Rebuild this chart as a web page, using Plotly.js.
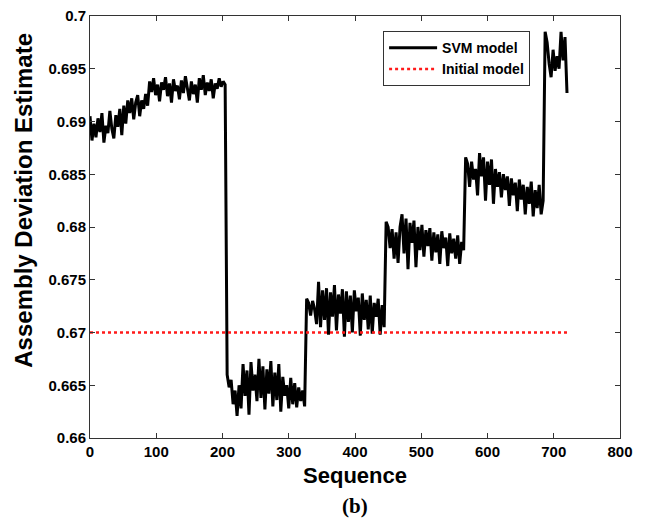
<!DOCTYPE html>
<html>
<head>
<meta charset="utf-8">
<script src="https://cdn.plot.ly/plotly-3.0.1.min.js"></script>
<style>html,body{margin:0;padding:0;background:#fff;}#chart{width:646px;height:524px;}</style>
</head>
<body>
<div id="chart"></div>
<script>
// Sequence sampled every 3 steps from 0 to 720
const seqStart = 0, seqStep = 3;

// SVM model estimate (segments between level jumps)
const svmSeg1 = [0.6905,0.6882,0.6898,0.6885,0.6903,0.6890,0.6908,0.6880,0.6896,0.6889,
  0.6910,0.6893,0.6884,0.6906,0.6895,0.6912,0.6887,0.6915,0.6898,0.6920,
  0.6908,0.6922,0.6902,0.6918,0.6925,0.6905,0.6920,0.6912,0.6926,0.6915,
  0.6938,0.6928,0.6941,0.6925,0.6935,0.6919,0.6937,0.6930,0.6942,0.6924,
  0.6936,0.6918,0.6940,0.6929,0.6934,0.6921,0.6939,0.6927,0.6943,0.6931,
  0.6920,0.6938,0.6926,0.6935,0.6918,0.6941,0.6930,0.6944,0.6925,0.6937,
  0.6929,0.6940,0.6922,0.6936,0.6931,0.6941,0.6933,0.6938,0.6935];
const svmSeg2 = [0.6660,0.6648,0.6655,0.6632,0.6645,0.6621,0.6650,0.6628,0.6670,0.6640,
  0.6664,0.6622,0.6672,0.6645,0.6660,0.6635,0.6675,0.6638,0.6668,0.6627,
  0.6665,0.6642,0.6673,0.6630,0.6662,0.6636,0.6670,0.6625,0.6658,0.6640,
  0.6650,0.6628,0.6657,0.6632,0.6652,0.6629,0.6648,0.6635,0.6645,0.6630];
const svmSeg3 = [0.6732,0.6728,0.6716,0.6730,0.6722,0.6708,0.6748,0.6705,0.6740,0.6712,
  0.6742,0.6698,0.6738,0.6715,0.6745,0.6702,0.6736,0.6718,0.6741,0.6696,
  0.6739,0.6710,0.6735,0.6700,0.6740,0.6720,0.6733,0.6697,0.6737,0.6712,
  0.6731,0.6703,0.6735,0.6699,0.6728,0.6715,0.6732,0.6698,0.6726,0.6705];
const svmSeg4 = [0.6805,0.6800,0.6780,0.6798,0.6770,0.6795,0.6766,0.6800,0.6812,0.6775,
  0.6808,0.6760,0.6804,0.6785,0.6806,0.6762,0.6800,0.6778,0.6802,0.6772,
  0.6797,0.6782,0.6799,0.6768,0.6795,0.6776,0.6793,0.6765,0.6796,0.6780,
  0.6790,0.6763,0.6794,0.6775,0.6789,0.6770,0.6792,0.6765,0.6786,0.6778];
const svmSeg5 = [0.6866,0.6860,0.6838,0.6862,0.6845,0.6855,0.6830,0.6870,0.6848,0.6866,
  0.6825,0.6862,0.6840,0.6864,0.6822,0.6855,0.6838,0.6852,0.6828,0.6850,
  0.6835,0.6848,0.6820,0.6846,0.6830,0.6842,0.6815,0.6845,0.6826,0.6840,
  0.6812,0.6838,0.6822,0.6843,0.6810,0.6835,0.6818,0.6840,0.6812,0.6825];
const svmSeg6 = [0.6985,0.6975,0.6955,0.6942,0.6968,0.6948,0.6962,0.6950,0.6985,0.6958,0.6980,0.6927];

// Initial model: constant level over the same sequence span
const initialX = [0, 720];
const initialY = [0.67, 0.67];

const xTickVals = [0,100,200,300,400,500,600,700,800];
const xTickText = ['0','100','200','300','400','500','600','700','800'];
const yTickVals = [0.66,0.665,0.67,0.675,0.68,0.685,0.69,0.695,0.7];
const yTickText = ['0.66','0.665','0.67','0.675','0.68','0.685','0.69','0.695','0.7'];

const svmY = [].concat(svmSeg1, svmSeg2, svmSeg3, svmSeg4, svmSeg5, svmSeg6);
const svmX = svmY.map((_, i) => seqStart + i * seqStep);

const FONT = 'Liberation Sans, Arial, Helvetica, sans-serif';

const traces = [
  {x: svmX, y: svmY, type: 'scatter', mode: 'lines', name: 'SVM model',
   line: {color: '#000000', width: 3}},
  {x: initialX, y: initialY, type: 'scatter', mode: 'lines', name: 'Initial model',
   line: {color: '#ff1a1a', width: 2.4, dash: 'dot'}}
];

const axisCommon = {
  showline: true, linecolor: '#333333', linewidth: 1, mirror: 'ticks',
  ticks: 'inside', ticklen: 5, tickcolor: '#333333', tickwidth: 1,
  showgrid: false, zeroline: false, fixedrange: true,
  tickfont: {family: FONT, size: 15, color: '#000', weight: 'bold'}
};

const layout = {
  width: 646, height: 524,
  margin: {l: 90, r: 26, t: 16, b: 86},
  paper_bgcolor: '#ffffff', plot_bgcolor: '#ffffff',
  showlegend: true,
  legend: {x: 0.553, y: 0.964, xanchor: 'left', yanchor: 'top',
    bgcolor: '#ffffff', bordercolor: '#333333', borderwidth: 1,
    font: {family: FONT, size: 14, color: '#000', weight: 'bold'},
    tracegroupgap: 0, itemwidth: 48},
  xaxis: Object.assign({}, axisCommon, {
    range: [0, 800], tickvals: xTickVals, ticktext: xTickText,
    title: {text: 'Sequence', font: {family: FONT, size: 22, color: '#000', weight: 'bold'}, standoff: 8}
  }),
  yaxis: Object.assign({}, axisCommon, {
    range: [0.66, 0.7], tickvals: yTickVals, ticktext: yTickText
  }),
  annotations: [
    {text: 'Assembly Deviation Estimate', xref: 'paper', yref: 'paper', x: -0.125, y: 0.564,
     xanchor: 'center', yanchor: 'middle', textangle: -90, showarrow: false,
     font: {family: FONT, size: 24, color: '#000', weight: 'bold'}},
    {text: '(b)', xref: 'paper', yref: 'paper', x: 0.5, y: -0.127, yanchor: 'top', showarrow: false,
     font: {family: 'Liberation Serif, Times New Roman, serif', size: 21, color: '#000', weight: 'bold'}}
  ]
};

Plotly.newPlot('chart', traces, layout, {displayModeBar: false, staticPlot: true});
</script>
</body>
</html>
